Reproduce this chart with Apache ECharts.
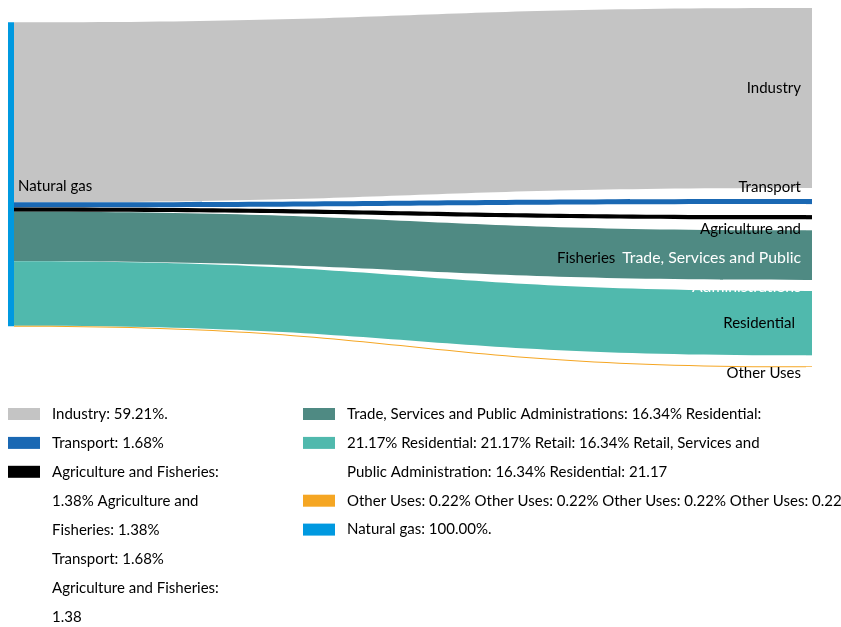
<!DOCTYPE html>
<html>
<head>
<meta charset="utf-8">
<script src="https://cdn.jsdelivr.net/npm/echarts@6/dist/echarts.min.js"></script>
<style>
  html, body { margin: 0; padding: 0; background: #fff; }
  #chart { width: 841px; height: 627px; }
</style>
</head>
<body>
<div id="chart"></div>
<script>
// Natural gas final consumption by sector (% of total)
const source = 'Natural gas';
const sourceColor = '#0099e0';
const sectors = [
  'Industry',
  'Transport',
  'Agriculture and Fisheries',
  'Trade, Services and Public Administrations',
  'Residential',
  'Other Uses'
];
const shares = [59.21, 1.68, 1.38, 16.34, 21.17, 0.22];
const sectorColors = ['#c4c4c4', '#1a68b3', '#000000', '#4f8a83', '#50b9ad', '#f5a623'];

// Legend entries: [column, row, swatch colour, text]
const legendItems = [
  [0, 0, '#c4c4c4', 'Industry: 59.21%.'],
  [0, 1, '#1a68b3', 'Transport: 1.68%'],
  [0, 2, '#000000', 'Agriculture and Fisheries:\n1.38% Agriculture and\nFisheries: 1.38%\nTransport: 1.68%\nAgriculture and Fisheries:\n1.38'],
  [1, 0, '#4f8a83', 'Trade, Services and Public Administrations: 16.34% Residential:\n21.17% Residential: 21.17% Retail: 16.34% Retail, Services and\nPublic Administration: 16.34% Residential: 21.17'],
  [1, 1, '#50b9ad', ''],
  [1, 3, '#f5a623', 'Other Uses: 0.22% Other Uses: 0.22% Other Uses: 0.22% Other Uses: 0.22'],
  [1, 4, '#0099e0', 'Natural gas: 100.00%.']
];

const FONT = 'Lato';
const FS = 15;
const LEGEND_FS = 15;
const LH = 29;

// label placement per sector node
const labelStyle = {
  'Industry': { offset: [0, -10] },
  'Transport': { offset: [0, -14] },
  'Agriculture and Fisheries': {
    offset: [0, 26],
    formatter: 'Agriculture and\n{f|Fisheries}',
    rich: { f: { width: 244, align: 'left', fontFamily: FONT, fontSize: FS, lineHeight: LH, color: '#000' } }
  },
  'Trade, Services and Public Administrations': {
    offset: [0, 17], color: '#ffffff', fontSize: 15.8,
    formatter: 'Trade, Services and Public\nAdministrations'
  },
  'Residential': { offset: [-6, 0] },
  'Other Uses': { offset: [0, 6] }
};

const nodes = [{
  name: source,
  localY: 0.04,
  itemStyle: { color: sourceColor },
  label: { position: 'right', distance: 4, offset: [0, 12], color: '#000' }
}].concat(sectors.map((s, i) => ({
  name: s,
  itemStyle: { color: sectorColors[i] },
  label: Object.assign({ position: 'left', distance: 5, color: '#000' }, labelStyle[s])
})));

const links = sectors.map((s, i) => ({
  source: source,
  target: s,
  value: shares[i],
  lineStyle: { color: sectorColors[i], opacity: 1 }
}));

const colX = [8, 303];
const rowY0 = 414;
const rowStep = 28.9;
const graphics = [];
legendItems.forEach(([col, row, color, text]) => {
  const y = rowY0 + row * rowStep;
  graphics.push({
    type: 'rect',
    shape: { x: colX[col], y: y - 6, width: 32, height: 12 },
    style: { fill: color },
    silent: true
  });
  if (text) {
    graphics.push({
      type: 'text',
      x: colX[col] + 44,
      y: y - LH / 2,
      style: {
        text: text,
        fill: '#000',
        font: LEGEND_FS + 'px ' + FONT,
        lineHeight: LH,
        verticalAlign: 'top',
        align: 'left'
      },
      silent: true
    });
  }
});

const chart = echarts.init(document.getElementById('chart'), null, { renderer: 'canvas' });
chart.setOption({
  backgroundColor: '#ffffff',
  animation: false,
  series: [{
    type: 'sankey',
    left: 8,
    top: 8,
    right: 29,
    bottom: 260,
    nodeWidth: 6,
    nodeGap: 11,
    layoutIterations: 0,
    draggable: false,
    emphasis: { disabled: true },
    data: nodes,
    links: links,
    lineStyle: { curveness: 0.5, opacity: 1 },
    itemStyle: { borderWidth: 0 },
    label: {
      fontFamily: FONT,
      fontSize: FS,
      lineHeight: LH,
      color: '#000'
    }
  }],
  graphic: graphics
});
</script>
</body>
</html>
